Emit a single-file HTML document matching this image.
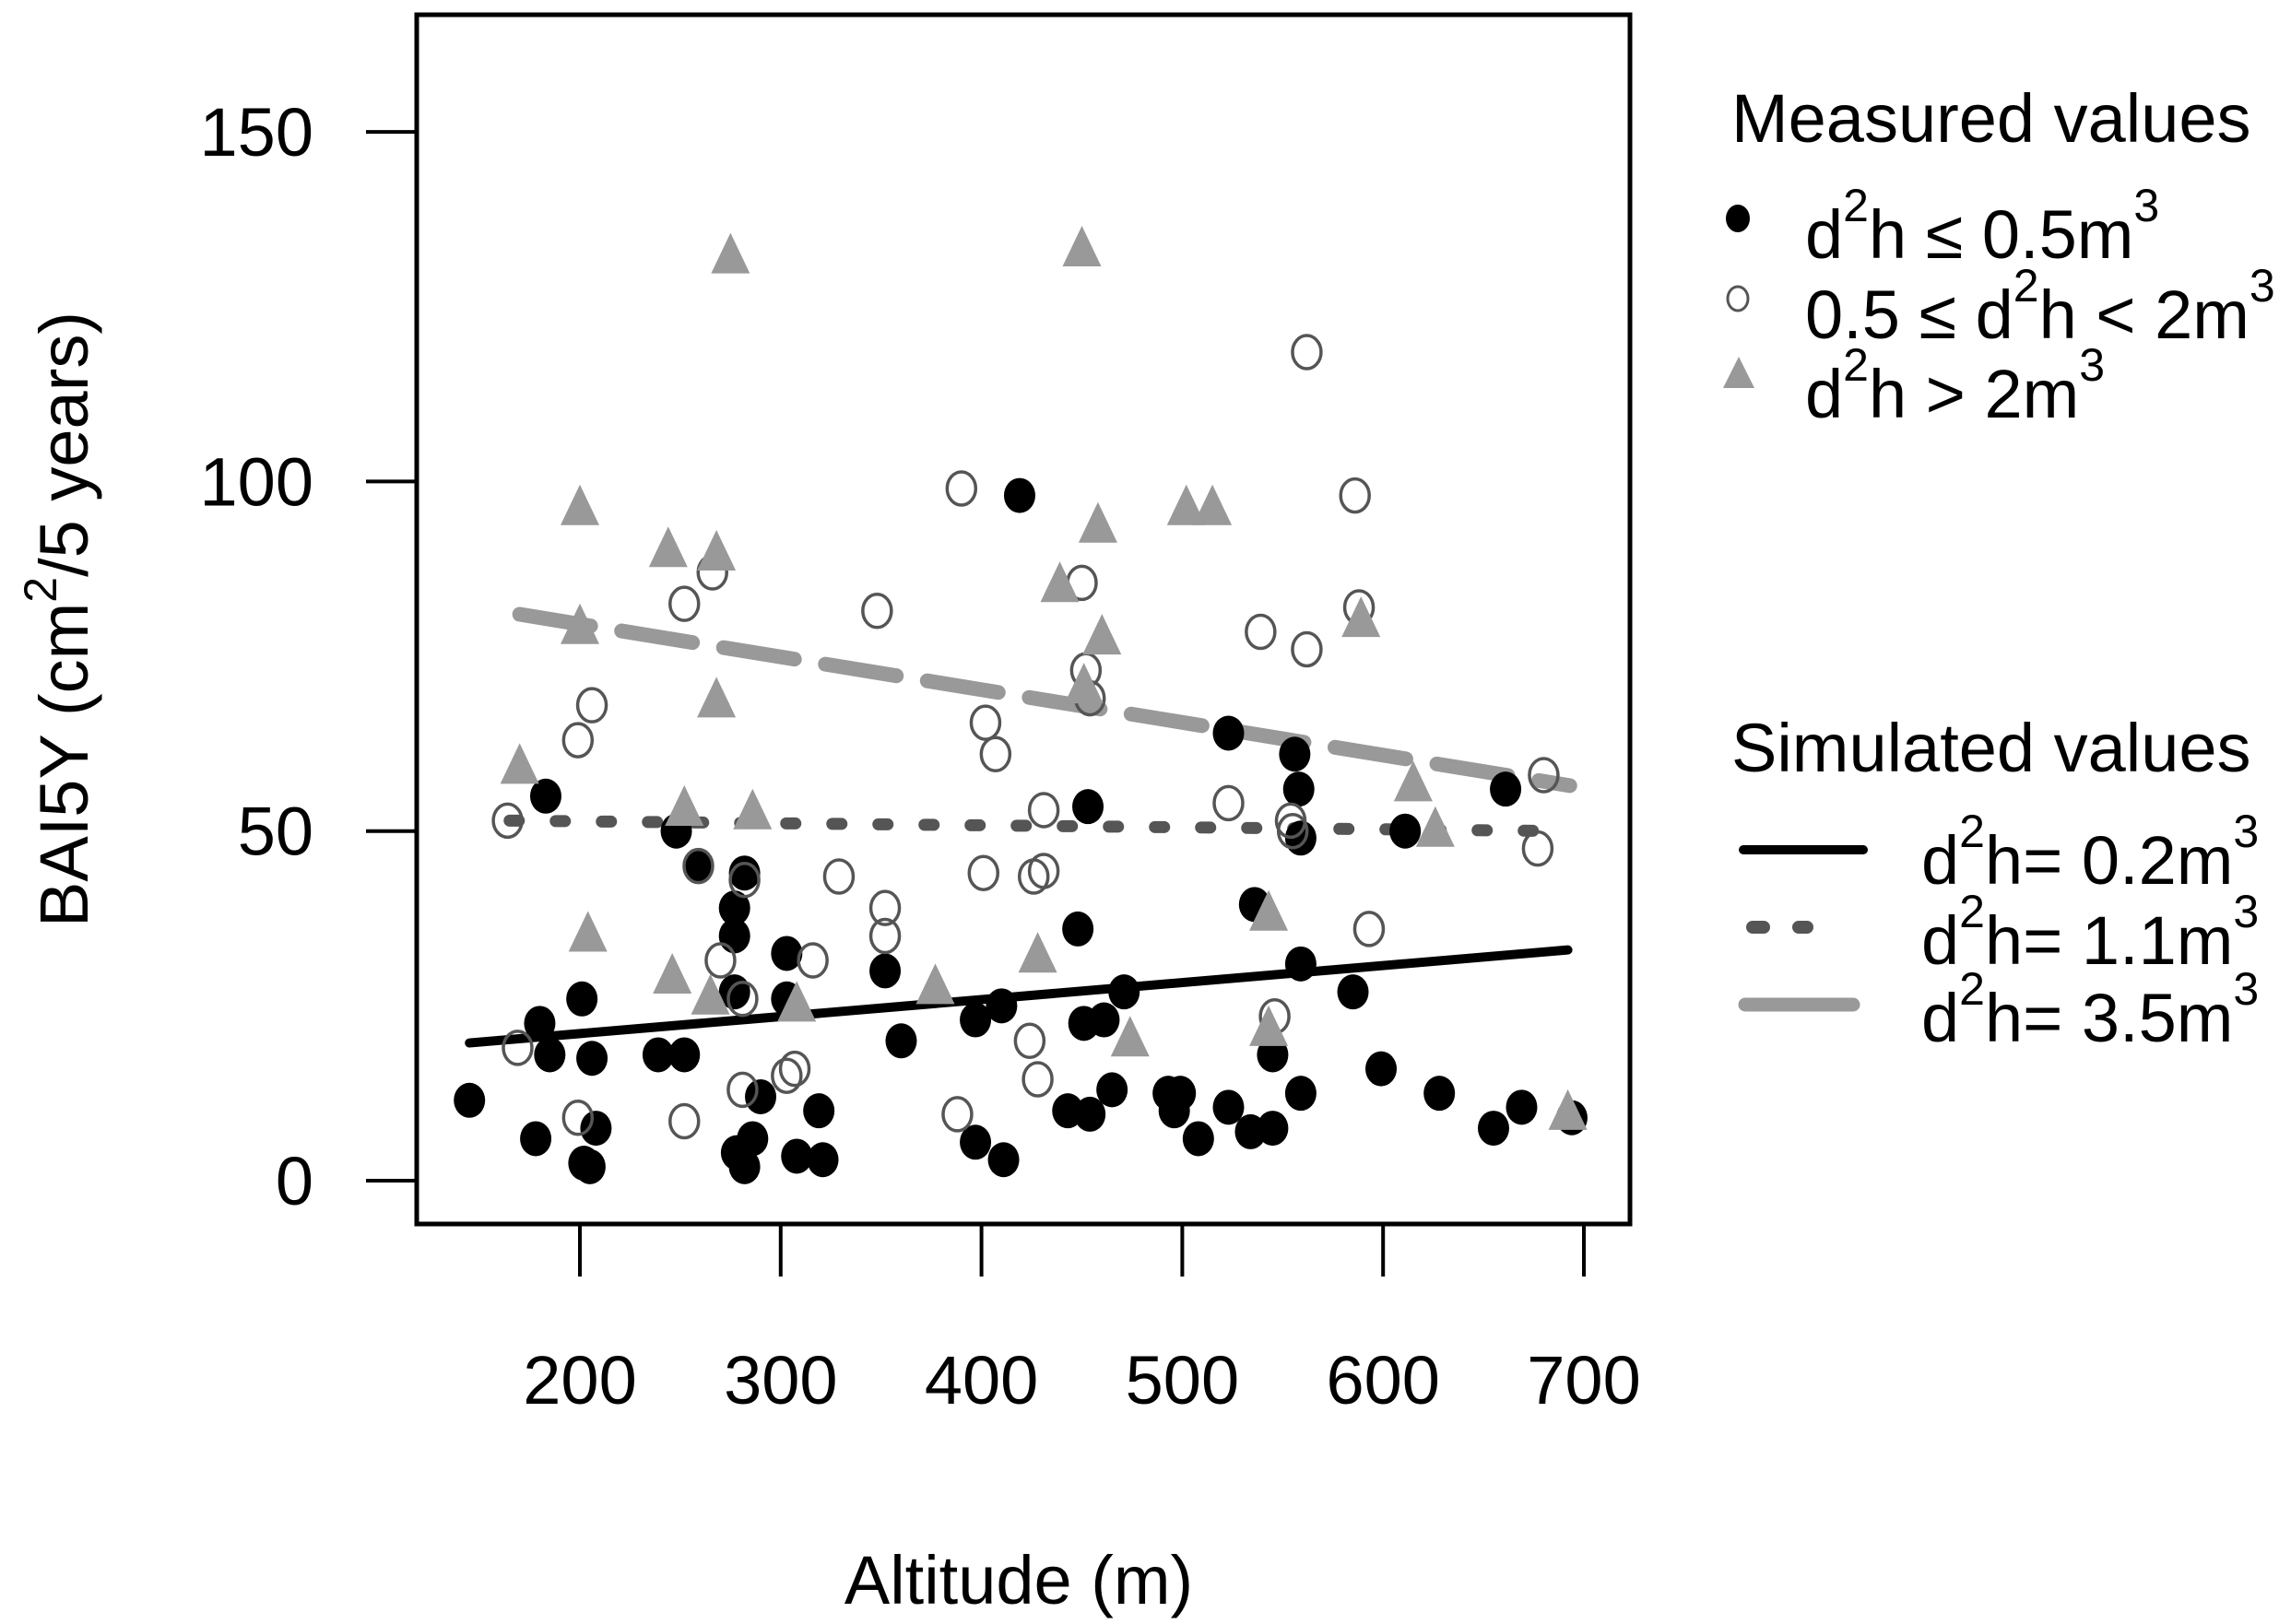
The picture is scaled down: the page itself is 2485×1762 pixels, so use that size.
<!DOCTYPE html>
<html><head><meta charset="utf-8"><style>
html,body{margin:0;padding:0;background:#fff}
svg{display:block;font-family:"Liberation Sans",sans-serif}
</style></head><body>
<svg id="chart" width="2485" height="1762" viewBox="0 0 2485 1762" xmlns="http://www.w3.org/2000/svg">
<rect x="0" y="0" width="2485" height="1762" fill="#fff"/>
<g id="lines"></g>
<g id="pts"></g>
<rect x="452" y="16" width="1316" height="1312" fill="none" stroke="#000" stroke-width="5"/>
<g id="axes"></g>
<text x="1105" y="1740" font-size="74" text-anchor="middle">Altitude (m)</text>
<text transform="translate(95,672) rotate(-90)" font-size="74" text-anchor="middle">BAI5Y (cm<tspan font-size="50" dy="-34">2</tspan><tspan dy="34">/5 years)</tspan></text>
<g font-size="74">
<text x="1878" y="154">Measured values</text>
<ellipse cx="1885" cy="237" rx="13" ry="15" fill="#000"/>
<text x="1958" y="280">d<tspan font-size="50" dy="-40">2</tspan><tspan dy="40">h ≤ 0.5m</tspan><tspan font-size="50" dy="-40">3</tspan></text>
<ellipse cx="1885" cy="324" rx="11" ry="13" fill="none" stroke="#555" stroke-width="3"/>
<text x="1958" y="367">0.5 ≤ d<tspan font-size="50" dy="-40">2</tspan><tspan dy="40">h &lt; 2m</tspan><tspan font-size="50" dy="-40">3</tspan></text>
<polygon points="1886,387 1903,421 1869,421" fill="#999"/>
<text x="1958" y="453">d<tspan font-size="50" dy="-40">2</tspan><tspan dy="40">h &gt; 2m</tspan><tspan font-size="50" dy="-40">3</tspan></text>
<text x="1878" y="837">Simulated values</text>
<line x1="1891" y1="922" x2="2021" y2="922" stroke="#000" stroke-width="10" stroke-linecap="round"/>
<text x="2084" y="959">d<tspan font-size="50" dy="-40">2</tspan><tspan dy="40">h= 0.2m</tspan><tspan font-size="50" dy="-40">3</tspan></text>
<line x1="1901" y1="1006" x2="1960" y2="1006" stroke="#555" stroke-width="14" stroke-linecap="round" stroke-dasharray="12 38"/>
<text x="2084" y="1046">d<tspan font-size="50" dy="-40">2</tspan><tspan dy="40">h= 1.1m</tspan><tspan font-size="50" dy="-40">3</tspan></text>
<line x1="1893" y1="1090" x2="2010" y2="1090" stroke="#999" stroke-width="15" stroke-linecap="round"/>
<text x="2084" y="1130">d<tspan font-size="50" dy="-40">2</tspan><tspan dy="40">h= 3.5m</tspan><tspan font-size="50" dy="-40">3</tspan></text>
</g>
</svg>
<script>
const xTicks=[200,300,400,500,600,700];
const yTicks=[0,50,100,150];
const smallX=[145,183,180,185,178,201,206,208,202,205,239,252,248,259,277,277,277,282,290,286,278,282,303,303,319,308,321,352,360,397,410,397,411,419,448,453,451,461,471,465,443,454,493,499,496,508,523,523,534,545,536,545,556,558,559,559,559,585,599,611,628,655,669,661,694];
const smallY=[11.5,55,22.5,18,6,26,17.5,7.5,2.5,2,18,18,50,45,39,35,27,44,12,6,4,2,32.5,26,10,3.5,3,30,20,23,25,5.5,3,98,36,53.5,22.5,23,27,13,10,9.5,12.5,12.5,10,6,10.5,64,7,7.5,39.5,18,61,56,49,31,12.5,27,16,50,12.5,7.5,10.5,56,9];
const medX=[164,169,199,206,199,252,266,252,259,270,281,281,282,303,307,316,329,348,352,352,388,390,402,407,401,424,428,426,431,431,450,452,454,523,539,546,554,555,562,562,586,588,593,680,677];
const medY=[51.5,19,63,68,9,82.5,87,8.5,45,31.5,26,13,43,15,16,31.5,43.5,81.5,39,35,9.5,99,65.5,61,44,20,14.5,43.5,44.3,53,85.5,73,69,54,78.5,23.5,51.5,50,118.5,76,98,82,36,58,47.5];
const largeX=[170,200,200,204,244,246,252,268,275,268,286,265,308,377,428,439,450,458,460,451,474,502,515,543,543,589,615,626,692];
const largeY=[59,96,79,35,90,29,53,89.5,132,68.5,52.5,26,25,27.5,32,85,133,93.5,77.5,70.5,20,96,96,38,21.5,80,56.5,50,9.5];
const lineXRange=[[145,692],[165,688],[170,693]];
const lineYEnds=[[19.7,33],[51.5,50],[81,56.5]];

const NS="http://www.w3.org/2000/svg";
function X(v){return 629+(v-200)*2.178;}
function Y(v){return 1281-v*7.586;}
function mk(tag,attrs,parent){const e=document.createElementNS(NS,tag);for(const k in attrs)e.setAttribute(k,attrs[k]);parent.appendChild(e);return e;}
const axes=document.getElementById('axes');
xTicks.forEach(t=>{
  const l=mk('line',{x1:X(t),x2:X(t),y1:1328,y2:1385,stroke:'#000','stroke-width':4},axes);
  
  
  const tx=mk('text',{x:X(t),y:1523,'font-size':74,'text-anchor':'middle'},axes);
  tx.textContent=t;
  
  
});
yTicks.forEach(t=>{
  const l=mk('line',{x1:397,x2:452,y1:Y(t),y2:Y(t),stroke:'#000','stroke-width':4},axes);
  
  
  const tx=mk('text',{x:340,y:Y(t)+26,'font-size':74,'text-anchor':'end'},axes);
  tx.textContent=t;
  
  
});
const lines=document.getElementById('lines');
const lstyles=[{stroke:'#000','stroke-width':10,'stroke-linecap':'round'},{stroke:'#555','stroke-width':13,'stroke-linecap':'round','stroke-dasharray':'10 40'},{stroke:'#999','stroke-width':16,'stroke-linecap':'round','stroke-dasharray':'78 34'}];
const lnames=['fit-line-0-2m3','fit-line-1-1m3','fit-line-3-5m3'];
lineXRange.forEach((r,i)=>{
  const l=mk('line',Object.assign({x1:X(r[0]),x2:X(r[1]),y1:Y(lineYEnds[i][0]),y2:Y(lineYEnds[i][1])},lstyles[i]),lines);
  
  
});
const pts=document.getElementById('pts');
smallX.forEach((x,i)=>{
  const e=mk('ellipse',{cx:X(x),cy:Y(smallY[i]),rx:17,ry:19,fill:'#000'},pts);
  
  
});
medX.forEach((x,i)=>{
  const e=mk('ellipse',{cx:X(x),cy:Y(medY[i]),rx:15.5,ry:18,fill:'none',stroke:'#555','stroke-width':3.5},pts);
  
  
});
largeX.forEach((x,i)=>{
  const cx=X(x),cy=Y(largeY[i]);
  const e=mk('polygon',{points:`${cx},${cy-27} ${cx+21},${cy+17} ${cx-21},${cy+17}`,fill:'#999'},pts);
  
  
});
</script>
</body></html>
